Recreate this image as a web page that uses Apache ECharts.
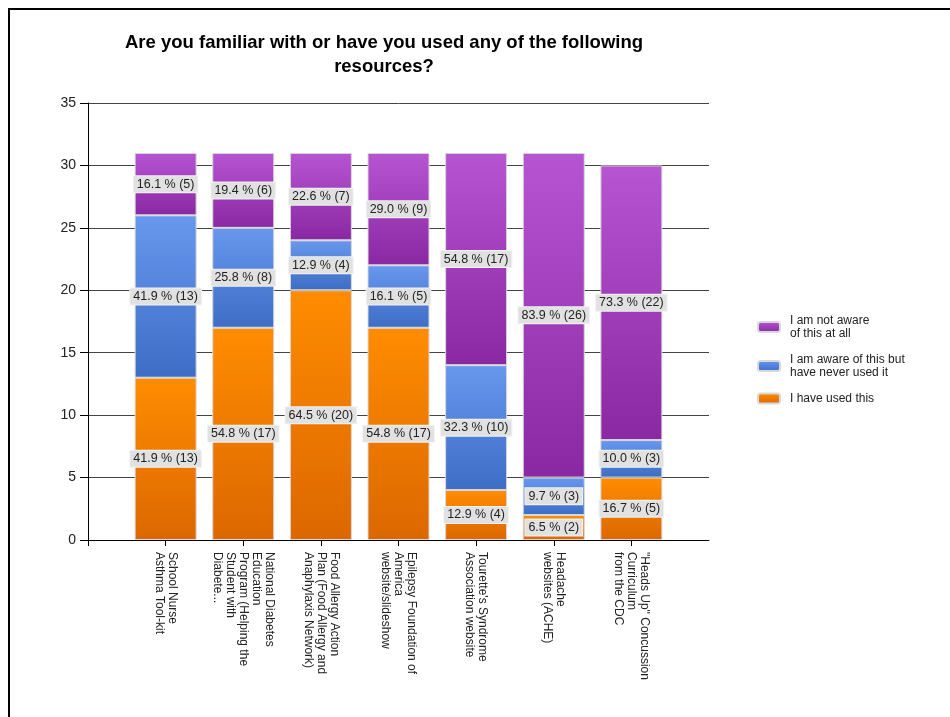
<!DOCTYPE html>
<html>
<head>
<meta charset="utf-8">
<script src="https://cdn.jsdelivr.net/npm/echarts@6/dist/echarts.min.js"></script>
<style>
  html, body { margin: 0; padding: 0; background: #fff; }
  #chart { width: 950px; height: 717px; }
</style>
</head>
<body>
<div id="chart"></div>
<script>
const categories = [
  "School Nurse\nAsthma Tool-kit",
  "National Diabetes\nEducation\nProgram (Helping the\nStudent with\nDiabete...",
  "Food Allergy Action\nPlan (Food Allergy and\nAnaphylaxis Network)",
  "Epilepsy Foundation of\nAmerica\nwebsite/slideshow",
  "Tourette's Syndrome\nAssociation website",
  "Headache\nwebsites (ACHE)",
  "\"Heads Up\" Concussion\nCurriculum\nfrom the CDC"
];
const usedThis = [13, 17, 20, 17, 4, 2, 5];
const awareNotUsed = [13, 8, 4, 5, 10, 3, 3];
const notAware = [5, 6, 7, 9, 17, 26, 22];
const seriesNames = ["I have used this", "I am aware of this but\nhave never used it", "I am not aware\nof this at all"];
const yTicks = [0, 5, 10, 15, 20, 25, 30, 35];

const totals = categories.map((_, i) => usedThis[i] + awareNotUsed[i] + notAware[i]);

// The original chart leaves half a slot of padding at each end of the axis:
// pad the category axis with one empty slot on each side.
const axisCats = [''].concat(categories, ['']);
const pad = arr => [null].concat(arr, [null]);

const chart = echarts.init(document.getElementById('chart'));
const font = 'Liberation Sans, Arial, sans-serif';

function grad(top, bottom) {
  return new echarts.graphic.LinearGradient(0, 0, 0, 1, [
    { offset: 0, color: top }, { offset: 1, color: bottom }
  ]);
}
const colors = [grad('#ff8c00', '#dc6700'), grad('#6897ee', '#3d6dc5'), grad('#b754d2', '#8a28a3')];

const labelStyle = {
  show: true,
  position: 'inside',
  fontFamily: font,
  fontSize: 12.5,
  color: '#222',
  backgroundColor: '#e1e1e1',
  borderColor: '#f2f2f2',
  borderWidth: 1,
  padding: [2, 3, 1, 3],
  formatter: p => (p.value / totals[p.dataIndex - 1] * 100).toFixed(1) + ' % (' + p.value + ')'
};

const dataSets = [usedThis, awareNotUsed, notAware];
const series = dataSets.map((d, k) => ({
  name: seriesNames[k],
  type: 'bar',
  stack: 'total',
  barWidth: 62,
  data: pad(d),
  itemStyle: { color: colors[k], borderColor: '#d8d8d8', borderWidth: 1 },
  label: labelStyle,
  emphasis: { disabled: true }
}));

chart.setOption({
  animation: false,
  backgroundColor: '#fff',
  title: {
    text: 'Are you familiar with or have you used any of the following\nresources?',
    left: 379,
    top: 26,
    textAlign: 'center',
    textStyle: { fontFamily: font, fontSize: 18.5, fontWeight: 'bold', color: '#000', lineHeight: 24 }
  },
  legend: {
    orient: 'vertical',
    left: 757,
    top: 314,
    padding: 0,
    itemWidth: 22,
    itemHeight: 10,
    itemGap: 13,
    data: [seriesNames[2], seriesNames[1], seriesNames[0]],
    textStyle: { fontFamily: font, fontSize: 12, color: '#222', lineHeight: 13, padding: [0, 0, 0, 5] },
    selectedMode: false
  },
  grid: { left: 88, right: 241, top: 103, bottom: 177 },
  xAxis: {
    type: 'category',
    data: axisCats,
    boundaryGap: false,
    axisLine: { lineStyle: { color: '#000', width: 1 } },
    axisTick: {
      length: 6,
      interval: idx => idx < axisCats.length - 1,
      lineStyle: { color: '#000' }
    },
    axisLabel: {
      rotate: -90,
      interval: 0,
      margin: 12,
      fontFamily: font,
      fontSize: 12,
      lineHeight: 13,
      color: '#222'
    }
  },
  yAxis: {
    type: 'value',
    min: yTicks[0],
    max: yTicks[yTicks.length - 1],
    interval: 5,
    axisLine: { show: true, lineStyle: { color: '#000', width: 1 } },
    axisTick: { show: true, length: 8, lineStyle: { color: '#000' } },
    axisLabel: { fontFamily: font, fontSize: 14, color: '#222', margin: 12 },
    splitLine: { lineStyle: { color: '#444', width: 1 } }
  },
  graphic: [{
    type: 'rect',
    silent: true,
    z: 100,
    shape: { x: 9, y: 9, width: 1000, height: 1000 },
    style: { fill: null, stroke: '#000', lineWidth: 2 }
  }],
  series: series
});
</script>
</body>
</html>
